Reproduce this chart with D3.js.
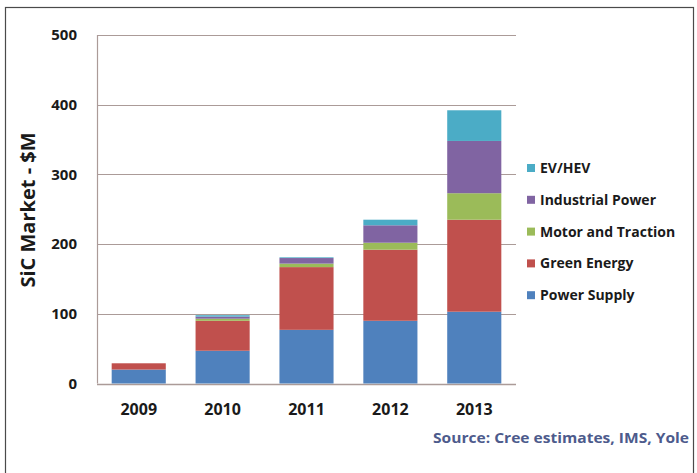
<!DOCTYPE html>
<html>
<head>
<meta charset="utf-8">
<script src="https://cdn.jsdelivr.net/npm/d3@7"></script>
<style>
  html, body { margin: 0; padding: 0; background: #ffffff; }
  svg { display: block; }
  text { font-family: "Open Sans", "Noto Sans", sans-serif; }
</style>
</head>
<body>
<svg id="chart" width="697" height="473"></svg>
<script>
// SiC market by application, $M
const years = ["2009", "2010", "2011", "2012", "2013"];
const seriesNames = ["Power Supply", "Green Energy", "Motor and Traction", "Industrial Power", "EV/HEV"];
const seriesColors = ["#4f81bd", "#c0504d", "#9bbb59", "#8064a2", "#4bacc6"];
const powerSupply      = [20, 47, 77, 90, 103];
const greenEnergy      = [9, 43, 90, 102, 132];
const motorTraction    = [0, 3, 5, 10, 38];
const industrialPower  = [0, 3, 8, 25, 75];
const evHev            = [0, 2, 1, 8, 44];
const yTicks = [0, 100, 200, 300, 400, 500];

const seriesValues = [powerSupply, greenEnergy, motorTraction, industrialPower, evHev];
const rows = years.map((y, i) => {
  const r = { year: y };
  seriesNames.forEach((s, k) => { r[s] = seriesValues[k][i]; });
  return r;
});

const svg = d3.select("#chart");
const plot = { left: 97, right: 516, top: 35, bottom: 383.5 };

// outer frame
svg.append("rect")
  .attr("x", 5.5).attr("y", 7.5)
  .attr("width", 688).attr("height", 480)
  .attr("fill", "#ffffff")
  .attr("stroke", "#4a4a4a").attr("stroke-width", 1.2);

const x = d3.scaleBand().domain(years)
  .range([plot.left, plot.right])
  .paddingInner(0.355).paddingOuter(0.175);
const y = d3.scaleLinear().domain([0, 500]).range([plot.bottom, plot.top]);

// gridlines
svg.append("g").selectAll("line").data(yTicks).join("line")
  .attr("x1", plot.left).attr("x2", plot.right)
  .attr("y1", d => Math.round(y(d)) + 0.5).attr("y2", d => Math.round(y(d)) + 0.5)
  .attr("stroke", "#ab9b98").attr("stroke-width", d => d === 0 ? 1.6 : 1.2);

// left axis line
svg.append("line")
  .attr("x1", plot.left + 0.5).attr("x2", plot.left + 0.5)
  .attr("y1", y(500)).attr("y2", y(0))
  .attr("stroke", "#ab9b98").attr("stroke-width", 1.2);

// y tick labels
const yAxis = d3.axisLeft(y).tickValues(yTicks).tickSize(0).tickPadding(20);
const gy = svg.append("g").attr("transform", `translate(${plot.left},0)`).call(yAxis);
gy.select(".domain").remove();
gy.selectAll("text")
  .attr("font-size", 15).attr("font-weight", 700).attr("fill", "#1a1a1a")
  .style("font-family", "'Open Sans', sans-serif");

// x tick labels
const xAxis = d3.axisBottom(x).tickSize(0).tickPadding(20);
const gx = svg.append("g").attr("transform", `translate(0,${plot.bottom})`).call(xAxis);
gx.select(".domain").remove();
gx.selectAll("text")
  .attr("font-size", 16).attr("font-weight", 700).attr("fill", "#1a1a1a")
  .style("font-family", "'Open Sans', sans-serif");

// stacked bars
const stack = d3.stack().keys(seriesNames)(rows);
svg.append("g").selectAll("g").data(stack).join("g")
  .attr("fill", (d, i) => seriesColors[i])
  .selectAll("rect").data(d => d).join("rect")
  .attr("x", d => x(d.data.year))
  .attr("width", x.bandwidth())
  .attr("y", d => y(d[1]))
  .attr("height", d => Math.max(0, y(d[0]) - y(d[1])));

// y axis title
svg.append("text")
  .attr("transform", "translate(35,210) rotate(-90)")
  .attr("text-anchor", "middle")
  .attr("font-size", 20).attr("font-weight", 700).attr("fill", "#1a1a1a")
  .text("SiC Market - $M");

// legend (top entry is the top of the stack)
const legendOrder = seriesNames.slice().reverse();
const lg = svg.append("g");
legendOrder.forEach((name, i) => {
  const cy = 168 + i * 31.8;
  const k = seriesNames.indexOf(name);
  lg.append("rect")
    .attr("x", 527).attr("y", cy - 4).attr("width", 8).attr("height", 8)
    .attr("fill", seriesColors[k]);
  lg.append("text")
    .attr("x", 540).attr("y", cy + 5)
    .attr("font-size", 14).attr("font-weight", 700).attr("fill", "#1a1a1a")
    .text(name);
});

// source note
svg.append("text")
  .attr("x", 689).attr("y", 443)
  .attr("text-anchor", "end")
  .attr("font-size", 14.5).attr("font-weight", 700).attr("fill", "#4d5b8c")
  .attr("textLength", 256).attr("lengthAdjust", "spacingAndGlyphs")
  .text("Source: Cree estimates, IMS, Yole");
</script>
</body>
</html>
